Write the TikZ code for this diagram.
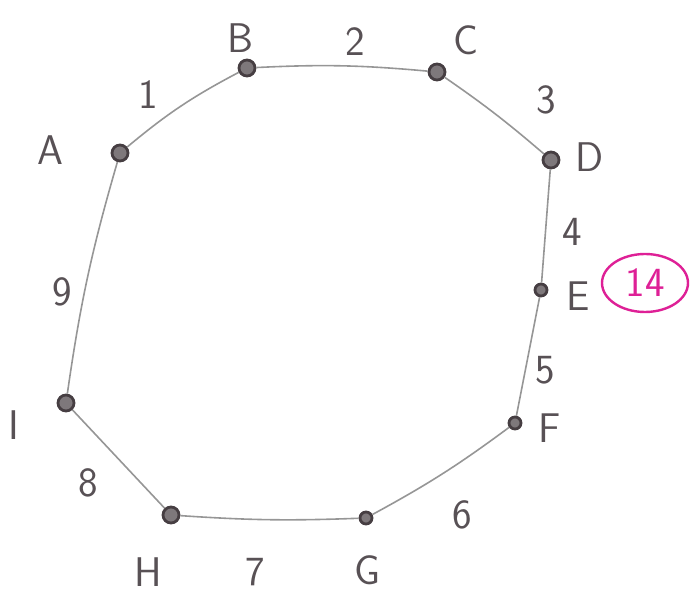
\documentclass[tikz,border=0pt]{standalone}
\usepackage{tikz}
\usetikzlibrary{arrows.meta, positioning, shapes, calc}
\definecolor{pen}{RGB}{70,62,66}
\definecolor{ink}{RGB}{150,150,150}
\definecolor{marker}{RGB}{222,32,150}

\begin{document}
\begin{tikzpicture}[x=0.5pt, y=-0.5pt,
    vertex/.style={circle, draw=pen, fill=pen!70, line width=1.4pt, inner sep=0pt, minimum size=8pt},
    vlabel/.style={font=\sffamily\huge, text=pen!90},
    weight/.style={font=\sffamily\huge, text=pen!90},
    edge/.style={draw=ink, line width=0.8pt}
  ]
    \useasboundingbox (0,0) rectangle (691,598);

    % Vertices
    \node[vertex] (A) at (120, 153) {};
    \node[vertex] (B) at (247, 68) {};
    \node[vertex] (C) at (437, 72) {};
    \node[vertex] (D) at (551, 160) {};
    \node[vertex, minimum size=6pt] (E) at (541, 290) {};
    \node[vertex, minimum size=6pt] (F) at (515, 423) {};
    \node[vertex, minimum size=6pt] (G) at (366, 518) {};
    \node[vertex] (H) at (171, 515) {};
    \node[vertex] (I) at (66, 403) {};

    % Vertex names
    \node[vlabel] (nA) at (50, 150) {A};
    \node[vlabel] (nB) at (240, 38) {B};
    \node[vlabel] (nC) at (466, 40) {C};
    \node[vlabel] (nD) at (590, 157) {D};
    \node[vlabel] (nE) at (578, 296) {E};
    \node[vlabel] (nF) at (550, 428) {F};
    \node[vlabel] (nG) at (368, 570) {G};
    \node[vlabel] (nH) at (148, 572) {H};
    \node[vlabel] (nI) at (14, 425) {I};

    % Edges
    \draw[edge] (A) to[bend left=6] (B);
    \draw[edge] (B) to[bend left=4] (C);
    \draw[edge] (C) to[bend left=3] (D);
    \draw[edge] (D) -- (E);
    \draw[edge] (E) -- (F);
    \draw[edge] (F) to[bend left=4] (G);
    \draw[edge] (G) to[bend left=3] (H);
    \draw[edge] (H) -- (I);
    \draw[edge] (I) to[bend left=4] (A);

    % Weights
    \node[weight] (w1) at (148, 95) {1};
    \node[weight] (w2) at (355, 42) {2};
    \node[weight] (w3) at (546, 100) {3};
    \node[weight] (w4) at (572, 232) {4};
    \node[weight] (w5) at (545, 370) {5};
    \node[weight] (w6) at (462, 515) {6};
    \node[weight] (w7) at (255, 572) {7};
    \node[weight] (w8) at (88, 483) {8};
    \node[weight] (w9) at (62, 292) {9};

    % Total
    \node[ellipse, draw=marker, line width=1.2pt, minimum width=43pt, minimum height=29pt,
          font=\sffamily\huge, text=marker, inner sep=1pt] (total) at (645, 283) {14};

  \end{tikzpicture}
\end{document}
